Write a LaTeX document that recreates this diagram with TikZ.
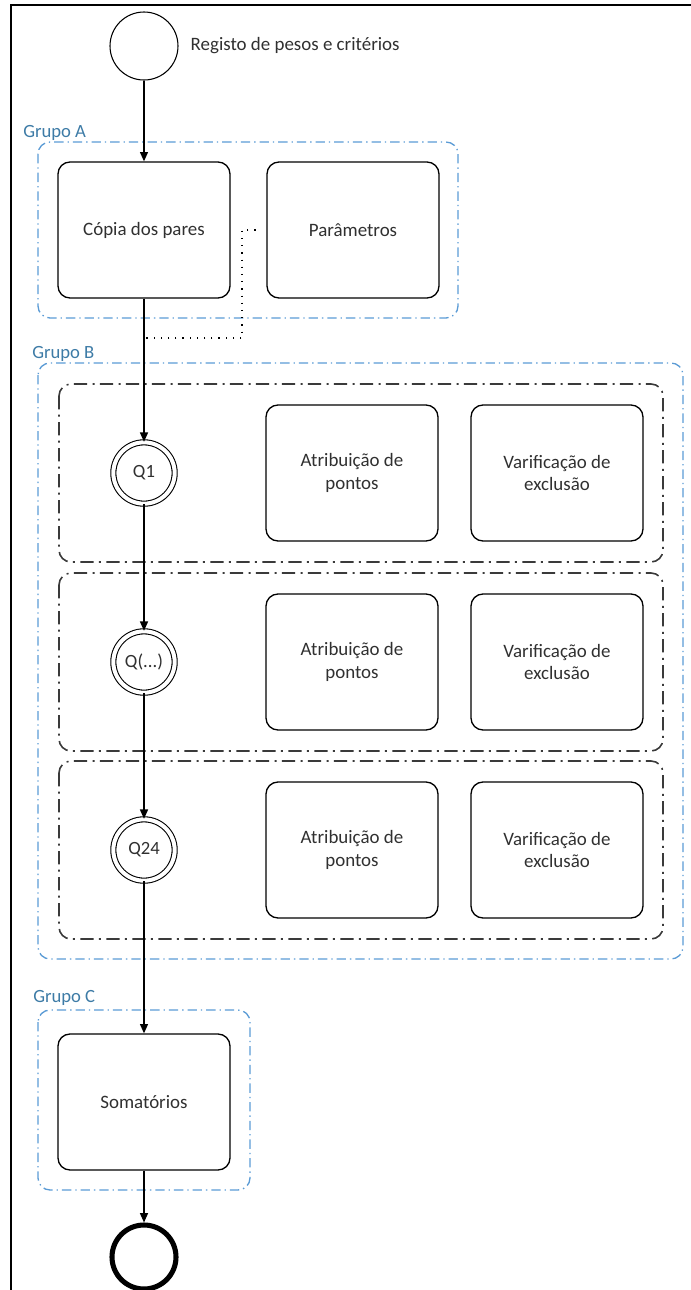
\documentclass[tikz,border=0pt]{standalone}
\usepackage{fontspec}
\setmainfont{Carlito}
\usetikzlibrary{arrows.meta}
\definecolor{grpline}{HTML}{5B9BD5}
\definecolor{grptext}{HTML}{3D7BA6}
\definecolor{laneline}{HTML}{3A3A3A}
\definecolor{inktext}{HTML}{303030}
\tikzset{
    task/.style={draw, rounded corners=9pt, line width=1pt, minimum width=129pt,
        minimum height=102pt, align=center, text=inktext, font=\fontsize{14.2}{16.8}\selectfont},
    startev/.style={draw, circle, line width=0.8pt, minimum size=51pt},
    endev/.style={draw, circle, line width=3.8pt, minimum size=48pt},
    qev/.style={draw, circle, double, double distance=3pt, line width=0.8pt,
        minimum size=46pt, inner sep=0pt, text=inktext, font=\fontsize{14}{16}\selectfont},
    flow/.style={line width=1pt, -{Triangle[length=7pt, width=6pt]}},
    assoc/.style={line width=1pt, dash pattern=on 0.9pt off 4.5pt},
    grp/.style={grpline, line width=1pt, rounded corners=9pt,
        dash pattern=on 7pt off 3pt on 1pt off 3pt},
    lane/.style={laneline, line width=1.2pt, rounded corners=9pt,
        dash pattern=on 10pt off 4pt on 1.5pt off 4pt},
    grplabel/.style={anchor=west, text=grptext, inner sep=0pt, font=\fontsize{14}{16}\selectfont},
}
\begin{document}
\begin{tikzpicture}[x=0.75pt, y=-0.75pt]
    \useasboundingbox (0, 0) rectangle (691, 1290);
    \draw[line width=1.6pt] (11, 1290) -- (11, 5) -- (691, 5);
    \draw[grp] (38, 142) rectangle (458, 318);
    \draw[grp] (38, 363) rectangle (683, 959);
    \draw[grp] (38, 1010) rectangle (250, 1190);
    \draw[lane] (59, 384) rectangle (663, 562);
    \draw[lane] (59, 573) rectangle (663, 751);
    \draw[lane] (59, 761) rectangle (663, 939);
    \node[grplabel] (grpA) at(23, 133) {Grupo A};
    \node[grplabel] (grpB) at(32, 354) {Grupo B};
    \node[grplabel] (grpC) at(33, 998) {Grupo C};
    \node[startev] (start) at(144, 46) {};
    \node[anchor=west, text=inktext, font=\fontsize{14.2}{16}\selectfont] (startlbl) at(186, 46) {Registo de pesos e critérios};
    \node[task] (copia) at(144, 230) {Cópia dos pares};
    \node[task] (param) at(353, 230) {Parâmetros};
    \node[qev] (q1) at(144, 473) {Q1};
    \node[task] (pts1) at(352, 473) {Atribuição de\\pontos};
    \node[task] (exc1) at(557, 473) {Varificação de\\exclusão};
    \node[qev] (qx) at(144, 662) {Q(...)};
    \node[task] (pts2) at(352, 662) {Atribuição de\\pontos};
    \node[task] (exc2) at(557, 662) {Varificação de\\exclusão};
    \node[qev] (q24) at(144, 850) {Q24};
    \node[task] (pts3) at(352, 850) {Atribuição de\\pontos};
    \node[task] (exc3) at(557, 850) {Varificação de\\exclusão};
    \node[task] (soma) at(144, 1102) {Somatórios};
    \node[endev] (end) at(144, 1257) {};
    \coordinate (bendA) at(242, 230);
    \coordinate (bendB) at(242, 338);
    \coordinate (bendC) at(144, 338);
    \draw[assoc, shorten <=8pt] (param.west) -- (bendA) -- (bendB) -- (bendC) -- (q1.north);
    \draw[flow] (start) -- (copia);
    \draw[flow] (copia) -- (q1);
    \draw[flow] (q1) -- (qx);
    \draw[flow] (qx) -- (q24);
    \draw[flow] (q24) -- (soma);
    \draw[flow] (soma) -- (end);
\end{tikzpicture}
\end{document}
